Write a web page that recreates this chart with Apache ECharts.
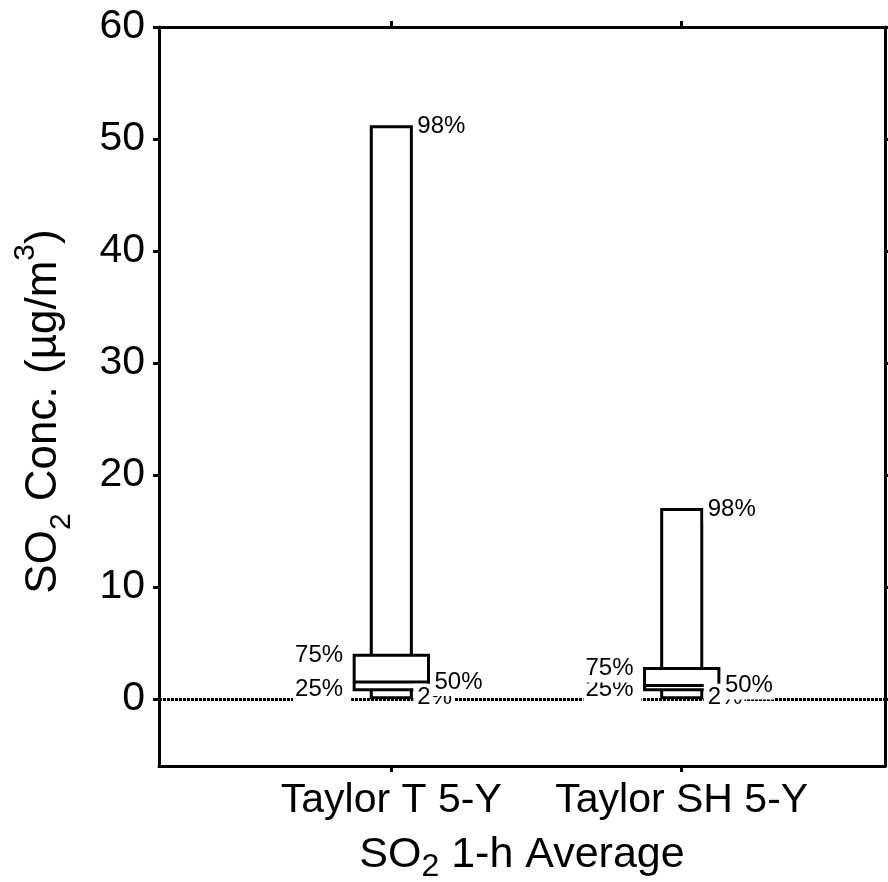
<!DOCTYPE html>
<html>
<head>
<meta charset="utf-8">
<script src="https://cdn.jsdelivr.net/npm/echarts@6/dist/echarts.min.js"></script>
<style>
  html, body { margin: 0; padding: 0; background: #fff; }
  #chart { width: 888px; height: 882px; }
</style>
</head>
<body>
<div id="chart"></div>
<script>
// Percentile summary of SO2 1-h averages, one box per site record
const categories = ['Taylor T 5-Y', 'Taylor SH 5-Y'];
const categoryX = [1, 2];
const p2 = [0.1, 0.1];
const p25 = [0.8, 0.8];
const p50 = [1.5, 1.2];
const p75 = [3.9, 2.7];
const p98 = [51.1, 16.9];
const yTickValues = [0, 10, 20, 30, 40, 50, 60];

const FONT = '"Liberation Sans", Arial, Helvetica, sans-serif';
const X_MIN = 0.2, X_MAX = 2.7;
const BOX_HALF = 0.128;
const WHISKER_HALF = 0.069;

const boxData = categoryX.map((x, i) => [x, p2[i], p25[i], p50[i], p75[i], p98[i]]);

function renderBox(params, api) {
  const x = api.value(0);
  const v2 = api.value(1), v25 = api.value(2), v50 = api.value(3), v75 = api.value(4), v98 = api.value(5);
  const xPix = v => api.coord([v, 0])[0];
  const yPix = v => api.coord([x, v])[1];
  const left = xPix(x - BOX_HALF), right = xPix(x + BOX_HALF);
  const wl = xPix(x - WHISKER_HALF), wr = xPix(x + WHISKER_HALF);
  const outline = { stroke: '#000', lineWidth: 3, fill: '#fff' };
  // percentile tags sit on a white plate so they mask the zero line beneath
  const label = (text, px, py, align) => ({
    type: 'text',
    style: {
      text: text, x: px, y: py, align: align, verticalAlign: 'middle',
      font: '24px ' + FONT, fill: '#000',
      backgroundColor: '#fff',
      padding: align === 'right' ? [2, 8, 2, 2] : [2, 2, 2, 4],
      lineHeight: 24
    }
  });
  return {
    type: 'group',
    children: [
      { type: 'rect', shape: { x: wl, y: yPix(v98), width: wr - wl, height: yPix(v2) - yPix(v98) }, style: outline },
      { type: 'rect', shape: { x: left, y: yPix(v75), width: right - left, height: yPix(v25) - yPix(v75) }, style: outline },
      { type: 'line', shape: { x1: left, y1: yPix(v50), x2: right, y2: yPix(v50) }, style: { stroke: '#000', lineWidth: 3 } },
      label('98%', wr + 2, yPix(v98), 'left'),
      label('2%', wr + 2, yPix(v2), 'left'),
      label('25%', left - 3, yPix(v25), 'right'),
      label('75%', left - 3, yPix(v75), 'right'),
      label('50%', right + 2, yPix(v50), 'left')
    ]
  };
}

const axisLine = { show: true, onZero: false, lineStyle: { color: '#000', width: 3 } };
const tick = values => ({ show: true, customValues: values, length: 6, lineStyle: { color: '#000', width: 3 } });

const chart = echarts.init(document.getElementById('chart'), null, { renderer: 'canvas' });
chart.setOption({
  backgroundColor: '#fff',
  animation: false,
  grid: { left: 159, right: 3, top: 27, bottom: 116, containLabel: false, outerBoundsMode: 'none' },
  xAxis: [
    {
      type: 'value', min: X_MIN, max: X_MAX, position: 'bottom',
      axisLine: axisLine,
      splitLine: { show: false },
      axisTick: tick(categoryX),
      axisLabel: {
        customValues: categoryX,
        formatter: v => categories[categoryX.indexOf(v)] || '',
        color: '#000', fontSize: 41, fontFamily: FONT, margin: 14
      },
      name: '{a|SO}{s|2}{a| 1-h Average}',
      nameLocation: 'middle',
      nameGap: 61,
      nameTextStyle: {
        color: '#000', fontFamily: FONT,
        rich: {
          a: { fontSize: 43, lineHeight: 56, fontFamily: FONT, color: '#000' },
          s: { fontSize: 32, lineHeight: 8, verticalAlign: 'bottom', fontFamily: FONT, color: '#000' }
        }
      }
    },
    {
      type: 'value', min: X_MIN, max: X_MAX, position: 'top',
      axisLine: axisLine,
      splitLine: { show: false },
      axisTick: tick(categoryX),
      axisLabel: { show: false }
    }
  ],
  yAxis: [
    {
      type: 'value', min: -6, max: 60, position: 'left',
      axisLine: axisLine,
      splitLine: { show: false },
      axisTick: tick(yTickValues),
      axisLabel: { customValues: yTickValues, color: '#000', fontSize: 41, fontFamily: FONT, margin: 14 },
      name: '{a|SO}{s|2}{a| Conc. (µg/m}{p|3}{a|)}',
      nameLocation: 'middle',
      nameGap: 82,
      nameTextStyle: {
        color: '#000', fontFamily: FONT,
        padding: [0, 30, 0, 0],
        rich: {
          a: { fontSize: 44, lineHeight: 66, fontFamily: FONT, color: '#000' },
          s: { fontSize: 30, lineHeight: 12, verticalAlign: 'bottom', fontFamily: FONT, color: '#000' },
          p: { fontSize: 30, lineHeight: 14, verticalAlign: 'top', fontFamily: FONT, color: '#000' }
        }
      }
    },
    {
      type: 'value', min: -6, max: 60, position: 'right',
      axisLine: axisLine,
      splitLine: { show: false },
      axisTick: tick(yTickValues),
      axisLabel: { show: false }
    }
  ],
  series: [
    {
      // dotted zero reference line, kept beneath the boxes and their tags
      type: 'line',
      z: 1,
      data: [],
      markLine: {
        z: 1,
        silent: true,
        symbol: 'none',
        label: { show: false },
        lineStyle: { color: '#000', width: 3, type: [3, 1] },
        data: [{ yAxis: 0 }]
      }
    },
    {
      type: 'custom',
      z: 10,
      renderItem: renderBox,
      encode: { x: 0, y: [1, 2, 3, 4, 5] },
      data: boxData
    }
  ]
});
</script>
</body>
</html>
